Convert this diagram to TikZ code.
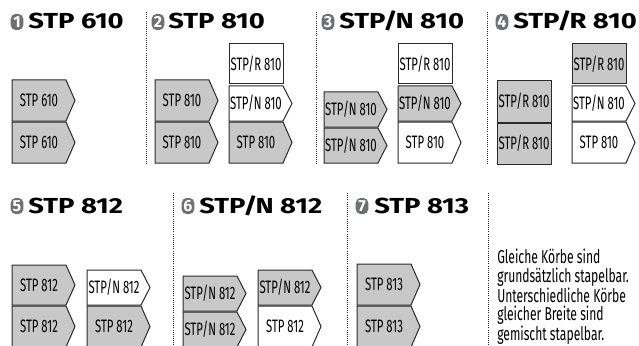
\documentclass[tikz,border=0pt]{standalone}
\usepackage{fontspec}
\setmainfont{Fira Sans}
\newfontfamily\condfont[FakeStretch=0.63]{Fira Sans}
\newfontfamily\sidefont[FakeStretch=0.65]{Fira Sans}
\newfontfamily\titlefont[FakeStretch=1.26]{Fira Sans}
\newfontfamily\iconfont[FakeStretch=1.0]{Fira Sans}
\definecolor{boxgray}{HTML}{C8C8C8}
\definecolor{icongray}{HTML}{6E6F71}
\definecolor{lineblack}{HTML}{2A2A2A}
\newcommand\tslash{\kern-1.6pt/\kern-1.6pt}
\tikzset{
  boxline/.style={draw=lineblack, line width=0.75pt},
  boxtext/.style={font=\condfont\fontsize{13.5}{14}\selectfont, inner sep=0pt, text=black},
  icon/.style={fill=icongray, rounded corners=3.6pt, minimum width=9.4pt, minimum height=12pt, inner sep=0pt,
    text=white, font=\iconfont\bfseries\fontsize{12}{12}\selectfont},
  title/.style={anchor=base west, inner sep=0pt, font=\titlefont\bfseries\fontsize{16.3}{16}\selectfont},
  sep/.style={draw=lineblack, line width=0.7pt, dash pattern=on 0.7pt off 0.9pt},
  side/.style={anchor=north west, inner sep=0pt, align=left, font=\sidefont\fontsize{14}{13.8}\selectfont}
}
\newcommand\ptbox[6]{%
  \draw[boxline,fill=#5] (#2,#3) -- ++(54,0) -- ++(9,#4/2) -- ++(-9,#4/2) -- ++(-54,0) -- cycle;
  \node[boxtext] (#1) at (#2+27,#3+#4/2) {#6};}
\newcommand\rtbox[6]{%
  \draw[boxline,fill=#5] (#2,#3) rectangle ++(54,#4);
  \node[boxtext] (#1) at (#2+27,#3+#4/2) {#6};}
\begin{document}
\begin{tikzpicture}[x=0.75pt,y=-0.75pt]
\useasboundingbox (0,0) rectangle (639,346);
\clip (0,0) rectangle (639,346);
% separators
\coordinate (s1a) at (146,12); \coordinate (s1b) at (146,164);
\coordinate (s2a) at (316,12); \coordinate (s2b) at (316,164);
\coordinate (s3a) at (487,12); \coordinate (s3b) at (487,164);
\coordinate (s4a) at (173,193); \coordinate (s4b) at (173,346);
\coordinate (s5a) at (347,193); \coordinate (s5b) at (347,346);
\coordinate (s6a) at (488,193); \coordinate (s6b) at (488,346);
\draw[sep] (s1a) -- (s1b);
\draw[sep] (s2a) -- (s2b);
\draw[sep] (s3a) -- (s3b);
\draw[sep] (s4a) -- (s4b);
\draw[sep] (s5a) -- (s5b);
\draw[sep] (s6a) -- (s6b);
% titles
\node[icon] (i1) at (17,22) {1};  \node[title] (t1) at (28,29) {STP 610};
\node[icon] (i2) at (158,22) {2}; \node[title] (t2) at (168,29) {STP 810};
\node[icon] (i3) at (328,22) {3}; \node[title] (t3) at (339,29) {STP\tslash N 810};
\node[icon] (i4) at (502,22) {4}; \node[title] (t4) at (513,29) {STP\tslash R 810};
\node[icon] (i5) at (17,206) {5}; \node[title] (t5) at (28,213) {STP 812};
\node[icon] (i6) at (188,206) {6}; \node[title] (t6) at (199,213) {STP\tslash N 812};
\node[icon] (i7) at (362,206) {7}; \node[title] (t7) at (374,213) {STP 813};
% panel 1
\ptbox{a1}{12}{80}{41}{boxgray}{STP 610}
\ptbox{a2}{12}{122}{41}{boxgray}{STP 610}
% panel 2
\ptbox{b1}{155}{80}{41}{boxgray}{STP 810}
\ptbox{b2}{155}{122}{41}{boxgray}{STP 810}
\rtbox{b3}{229}{44}{40}{white}{STP/R 810}
\ptbox{b4}{229}{86}{35}{white}{STP/N 810}
\ptbox{b5}{229}{122}{41}{boxgray}{STP 810}
% panel 3
\ptbox{c1}{324}{92}{35}{boxgray}{STP/N 810}
\ptbox{c2}{324}{128}{35}{boxgray}{STP/N 810}
\rtbox{c3}{398}{44}{40}{white}{STP/R 810}
\ptbox{c4}{398}{86}{35}{boxgray}{STP/N 810}
\ptbox{c5}{398}{122}{41}{white}{STP 810}
% panel 4
\rtbox{d1}{497}{81}{41}{boxgray}{STP/R 810}
\rtbox{d2}{497}{123}{41}{boxgray}{STP/R 810}
\rtbox{d3}{572}{44}{40}{boxgray}{STP/R 810}
\ptbox{d4}{572}{86}{35}{white}{STP/N 810}
\ptbox{d5}{572}{122}{41}{white}{STP 810}
% panel 5
\ptbox{e1}{12}{265}{40}{boxgray}{STP 812}
\ptbox{e2}{12}{306}{41}{boxgray}{STP 812}
\ptbox{e3}{87}{270}{35}{white}{STP/N 812}
\ptbox{e4}{87}{306}{41}{boxgray}{STP 812}
% panel 6
\ptbox{f1}{183}{276}{35}{boxgray}{STP/N 812}
\ptbox{f2}{183}{312}{35}{boxgray}{STP/N 812}
\ptbox{f3}{258}{270}{35}{boxgray}{STP/N 812}
\ptbox{f4}{258}{306}{41}{white}{STP 812}
% panel 7
\ptbox{g1}{357}{264}{41}{boxgray}{STP 813}
\ptbox{g2}{357}{306}{41}{boxgray}{STP 813}
% side note
\node[side] (note) at (497,249) {Gleiche Körbe sind\\grundsätzlich stapelbar.\\Unterschiedliche Körbe\\gleicher Breite sind\\gemischt stapelbar.};
\end{tikzpicture}
\end{document}
